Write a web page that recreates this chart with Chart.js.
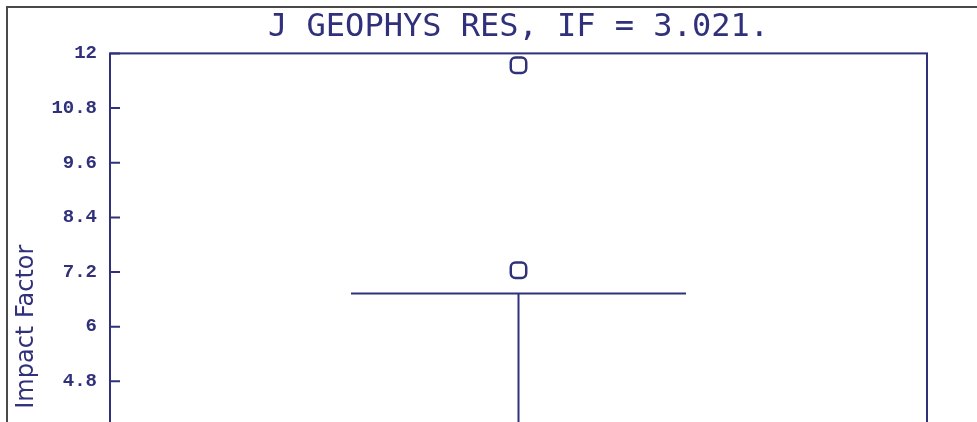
<!DOCTYPE html>
<html>
<head>
<meta charset="utf-8">
<script src="https://cdn.jsdelivr.net/npm/chart.js@4/dist/chart.umd.min.js"></script>
<style>
    html, body { margin: 0; padding: 0; background: #fff; overflow: hidden; }
    #wrap { position: relative; width: 977px; height: 422px; overflow: hidden; }
    #frame { position: absolute; left: 6px; top: 6px; width: 980px; height: 430px;
             border-top: 2px solid #4a4a4a; border-left: 2px solid #4a4a4a; }
    canvas { position: absolute; left: 0; top: 0; }
</style>
</head>
<body>
<div id="wrap">
    <canvas id="graficoIF" width="977" height="660"></canvas>
    <div id="frame"></div>
</div>
<script>
const navy = "#31317b";

const journals = ["J GEOPHYS RES"];
// box plot of impact factors (box itself lies below the visible crop)
const lowerWhisker = [0.6];
const q1 = [2.3];
const median = [2.9];
const q3 = [3.4];
const upperWhisker = [6.73];
const outliers = [11.74, 7.24];
const yTicks = [0, 1.2, 2.4, 3.6, 4.8, 6, 7.2, 8.4, 9.6, 10.8, 12];

const boxWhiskers = {
    id: "boxWhiskers",
    afterDatasetsDraw(chart) {
        const ctx = chart.ctx;
        const y = chart.scales.y;
        const area = chart.chartArea;
        const bars = chart.getDatasetMeta(0).data;

        ctx.save();
        ctx.strokeStyle = navy;
        ctx.lineWidth = 2;

        bars.forEach((bar, i) => {
            const half = bar.width / 2;
            const cx = bar.x;
            const top = y.getPixelForValue(upperWhisker[i]);
            const bot = y.getPixelForValue(lowerWhisker[i]);
            const med = y.getPixelForValue(median[i]);

            ctx.beginPath();
            ctx.moveTo(cx, y.getPixelForValue(q3[i]));
            ctx.lineTo(cx, top);
            ctx.moveTo(cx - half, top);
            ctx.lineTo(cx + half, top);
            ctx.moveTo(cx, y.getPixelForValue(q1[i]));
            ctx.lineTo(cx, bot);
            ctx.moveTo(cx - half, bot);
            ctx.lineTo(cx + half, bot);
            ctx.moveTo(cx - half, med);
            ctx.lineTo(cx + half, med);
            ctx.stroke();
        });

        // frame round the plot and short ticks on the inside
        ctx.strokeRect(area.left, area.top, area.right - area.left, area.bottom - area.top);
        ctx.beginPath();
        y.ticks.forEach(t => {
            const py = y.getPixelForValue(t.value);
            ctx.moveTo(area.left, py);
            ctx.lineTo(area.left + 10, py);
        });
        ctx.stroke();
        ctx.restore();
    }
};

const ctx = document.getElementById("graficoIF");

new Chart(ctx, {
    type: "bar",
    data: {
        labels: journals,
        datasets: [
            {
                data: journals.map((j, i) => [q1[i], q3[i]]),
                backgroundColor: "transparent",
                borderColor: navy,
                borderWidth: 2,
                borderSkipped: false,
                categoryPercentage: 1,
                barPercentage: 0.41
            },
            {
                type: "line",
                showLine: false,
                data: outliers.map(v => ({ x: journals[0], y: v })),
                pointStyle: "rectRounded",
                pointRadius: 9,
                pointBorderWidth: 2.5,
                pointBorderColor: navy,
                pointBackgroundColor: "transparent"
            }
        ]
    },
    options: {
        responsive: false,
        animation: false,
        layout: {
            padding: { left: 0, right: 50, top: 0, bottom: 60 }
        },
        plugins: {
            legend: { display: false },
            tooltip: { enabled: false },
            title: {
                display: true,
                text: "J GEOPHYS RES, IF = 3.021.",
                fullSize: false,
                color: navy,
                font: { family: "'DejaVu Sans Mono'", size: 32, weight: "normal" },
                padding: { top: 8, bottom: 7 }
            }
        },
        scales: {
            x: {
                display: false
            },
            y: {
                min: 0,
                max: 12,
                grid: { display: false, drawTicks: false },
                border: { display: false },
                afterBuildTicks: scale => {
                    scale.ticks = yTicks.map(v => ({ value: v }));
                },
                afterFit: scale => {
                    scale.width = 110;
                },
                ticks: {
                    padding: 13,
                    color: navy,
                    font: { family: "'Liberation Mono'", size: 19, weight: "bold" },
                    callback: v => String(+(+v).toFixed(1))
                },
                title: {
                    display: true,
                    text: "Impact Factor",
                    color: navy,
                    font: { family: "'DejaVu Sans'", size: 24 },
                    padding: { top: 12, bottom: 0 }
                }
            }
        }
    },
    plugins: [boxWhiskers]
});
</script>
</body>
</html>
